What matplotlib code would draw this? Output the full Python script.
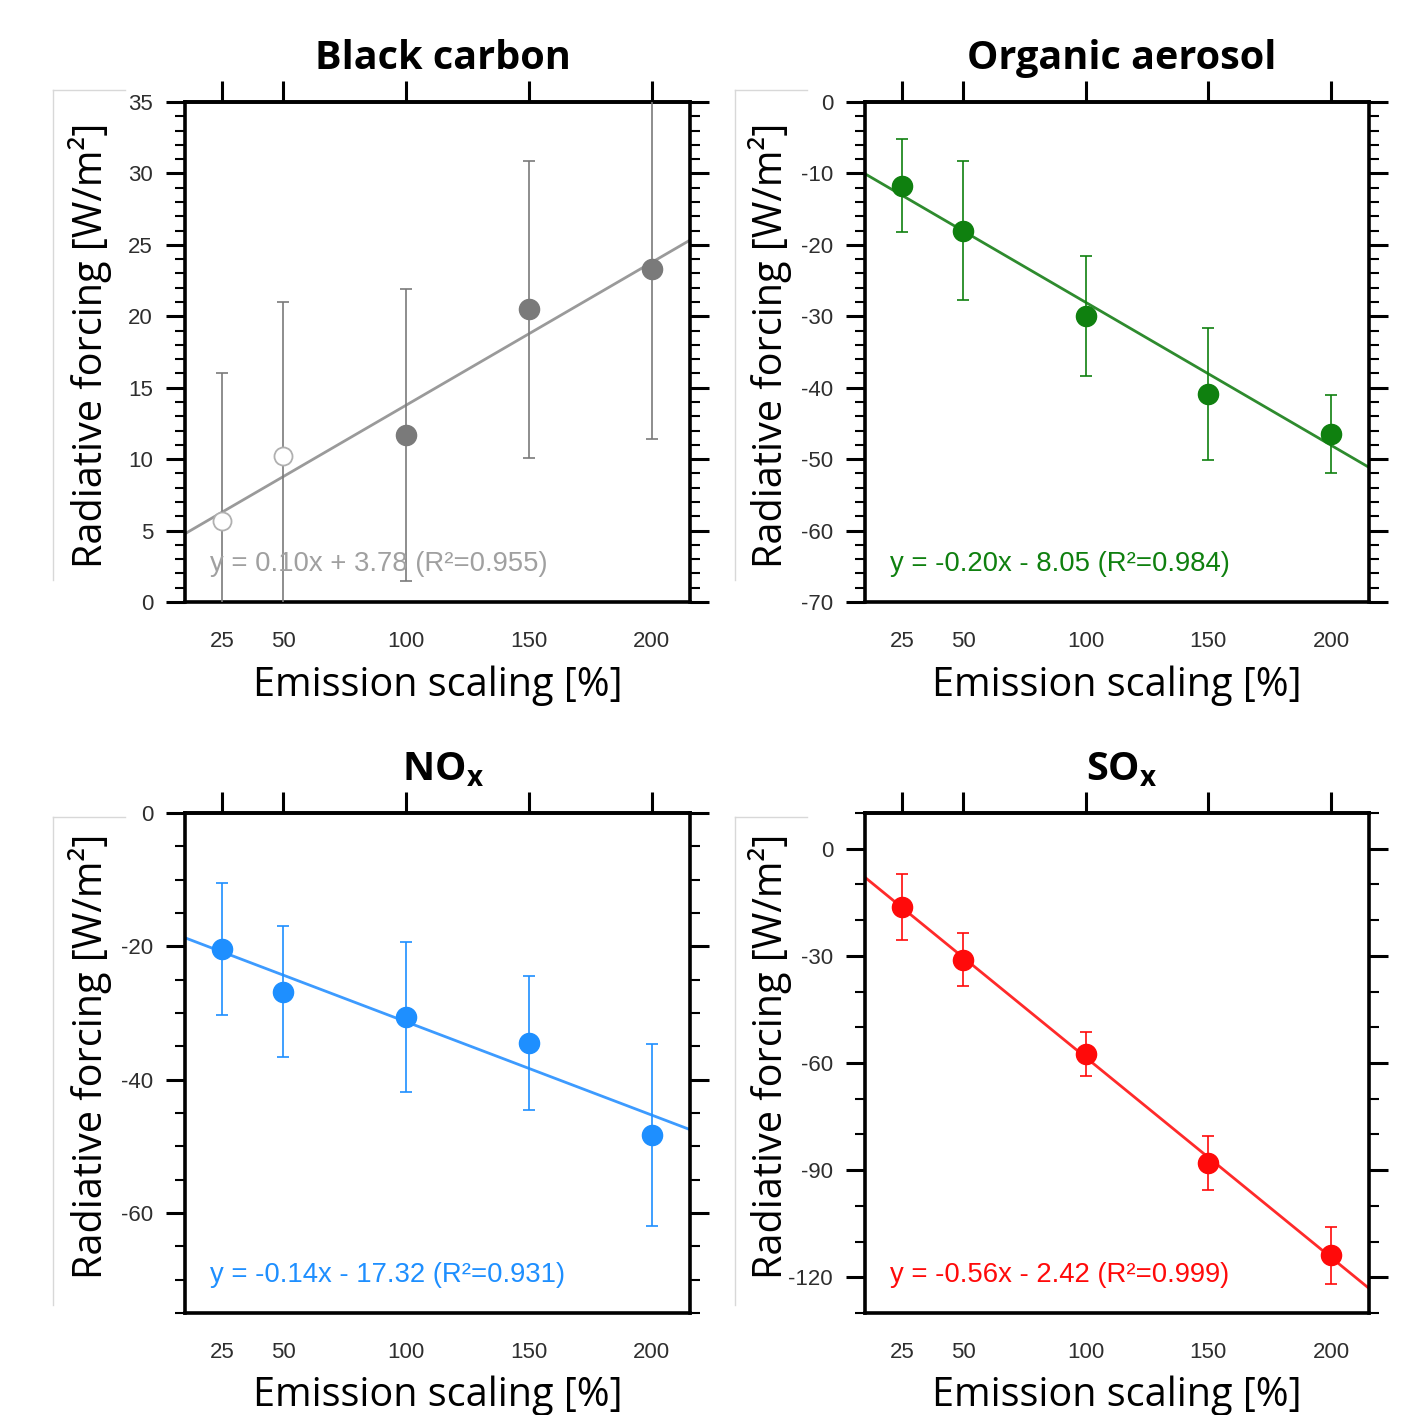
import numpy as np
import matplotlib
matplotlib.use("Agg")
import matplotlib.pyplot as plt
from matplotlib.ticker import MultipleLocator, FixedLocator
from matplotlib.lines import Line2D

plt.rcParams["axes.unicode_minus"] = False
plt.rcParams["mathtext.fontset"] = "custom"
plt.rcParams["mathtext.rm"] = "Open Sans"
plt.rcParams["mathtext.bf"] = "Open Sans:bold"

# emission scaling [%]
scaling = [25, 50, 100, 150, 200]

# radiative forcing values and error
bc_rf = [5.7, 10.2, 11.7, 20.5, 23.3]
bc_err = [10.3, 10.8, 10.2, 10.4, 11.9]
bc_hollow = [True, True, False, False, False]

oa_rf = [-11.7, -18.0, -29.9, -40.9, -46.5]
oa_err = [6.5, 9.7, 8.4, 9.2, 5.5]

nox_rf = [-20.4, -26.8, -30.6, -34.5, -48.3]
nox_err = [9.9, 9.8, 11.3, 10.0, 13.7]

sox_rf = [-16.3, -31.1, -57.5, -88.0, -113.8]
sox_err = [9.2, 7.4, 6.2, 7.5, 8.0]

# linear fits as printed in the panels
fits = {
    "bc": (0.10, 3.78, 0.955),
    "oa": (-0.20, -8.05, 0.984),
    "nox": (-0.14, -17.32, 0.931),
    "sox": (-0.56, -2.42, 0.999),
}

W, H = 1418, 1415
fig = plt.figure(figsize=(W / 100, H / 100), dpi=100)


def px_axes(left, top, right, bottom):
    return fig.add_axes([left / W, 1 - bottom / H, (right - left) / W, (bottom - top) / H])


def panel(ax, title, rf, err, fit, color, line_color, ylim, major, minor, hollow=None):
    ax.set_xlim(10, 215.5)
    ax.set_ylim(*ylim)

    slope, icpt, r2 = fit
    ax.axline((0, icpt), slope=slope, color=line_color, lw=2.0, zorder=2)

    ax.errorbar(scaling, rf, yerr=err, fmt="none", ecolor=color, elinewidth=1.2,
                capsize=4.5, capthick=1.2, zorder=3)
    if hollow is None:
        hollow = [False] * len(rf)
    for x, y, h in zip(scaling, rf, hollow):
        if h:
            ax.plot(x, y, "o", ms=13, mfc="white", mec="#b0b0b0", mew=1.3, zorder=4)
        else:
            ax.plot(x, y, "o", ms=14.5, mfc=color, mec=color, zorder=4)

    sign = "+" if icpt >= 0 else "-"
    ax.text(0.05, 0.076, f"y = {slope:.2f}x {sign} {abs(icpt):.2f} (R²={r2:.3f})",
            transform=ax.transAxes, color=color, fontsize=19.8,
            family="Liberation Sans", va="center", ha="left")

    # frame and ticks
    for sp in ax.spines.values():
        sp.set_linewidth(2.6)
    ax.yaxis.set_major_locator(MultipleLocator(major))
    ax.yaxis.set_minor_locator(MultipleLocator(minor))
    ax.tick_params(axis="y", which="major", left=True, right=True, direction="out",
                   length=14, width=2.2, labelsize=16, labelcolor="#2e2e2e", pad=9)
    ax.tick_params(axis="y", which="minor", left=True, right=True, direction="out",
                   length=7, width=1.5)
    ax.xaxis.set_major_locator(FixedLocator(scaling))
    ax.tick_params(axis="x", which="major", bottom=True, length=0, pad=21,
                   labelsize=16, labelcolor="#2e2e2e")
    for lab in ax.get_xticklabels() + ax.get_yticklabels():
        lab.set_family("Liberation Sans")

    top = ax.secondary_xaxis("top")
    top.set_xticks(scaling)
    top.tick_params(direction="out", length=15, width=2.2, labeltop=False)
    top.spines["top"].set_linewidth(2.6)

    ax.set_xlabel("Emission scaling [%]", family="Open Sans", fontsize=28.5)
    ax.xaxis.set_label_coords(0.5, -0.126)
    ax.set_ylabel("Radiative forcing [W/m²]", family="Open Sans", fontsize=28.5)
    ax.yaxis.set_label_coords(-0.145, 0.513)

    ax.text(0.51, 1.066, title, transform=ax.transAxes, ha="center", va="baseline",
            family="Open Sans", fontweight="bold", fontsize=28.5)


ax1 = px_axes(185, 102, 690, 602)
panel(ax1, "Black carbon", bc_rf, bc_err, fits["bc"], "#7a7a7a", "#9a9a9a",
      (0, 35), 5, 1, hollow=bc_hollow)
ax1.texts[0].set_color("#a0a0a0")

ax2 = px_axes(865, 102, 1369, 602)
panel(ax2, "Organic aerosol", oa_rf, oa_err, fits["oa"], "#0f800f", "#2e8b2e",
      (-70, 0), 10, 2)

ax3 = px_axes(185, 813, 690, 1313)
panel(ax3, r"NO$_\mathbf{x}$", nox_rf, nox_err, fits["nox"], "#1e8fff", "#3d9bff",
      (-75, 0), 20, 5)

ax4 = px_axes(865, 813, 1369, 1313)
panel(ax4, r"SO$_\mathbf{x}$", sox_rf, sox_err, fits["sox"], "#ff0a0a", "#ff2a2a",
      (-130, 10), 30, 10)

# faint frame remnants around the y labels
for x0, y0, y1 in [(53, 90, 580), (735, 90, 580), (53, 817, 1305), (735, 817, 1305)]:
    fig.add_artist(Line2D([x0 / W, x0 / W], [1 - y0 / H, 1 - y1 / H],
                          transform=fig.transFigure, color="#d8d8d8", lw=1))
    fig.add_artist(Line2D([x0 / W, (x0 + 72) / W], [1 - y0 / H, 1 - y0 / H],
                          transform=fig.transFigure, color="#d8d8d8", lw=1))

fig.savefig("out.png", dpi=100, facecolor="white")
